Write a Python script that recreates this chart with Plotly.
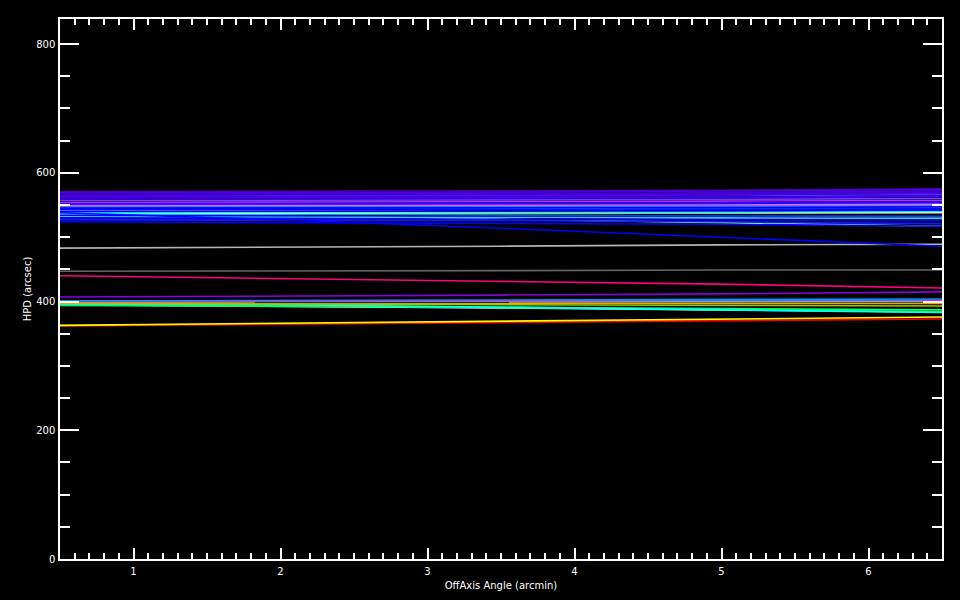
import plotly.graph_objects as go

# Off-axis angle sample positions (arcmin)
offaxis = [0.5, 2.0, 3.5, 5.0, 6.5]

# HPD values (arcsec) for each curve, read at the offaxis positions
hpd_red = [362, 365, 368, 371, 373]
hpd_yellow = [363, 366, 369, 373, 376]
hpd_white_low = [395, 393, 390, 387, 384]
hpd_spring = [394, 393, 391, 389, 387]
hpd_lime = [395, 394, 391, 388, 384]
hpd_cyan_low = [396, 395, 391, 387, 383]
hpd_olive = [397, 396, 395, 394, 393]
hpd_orange = [398, 398, 398, 397, 397]
hpd_teal = [400, 400, 400, 400, 400]
hpd_magenta = [400, 400, 401, 402, 402]
hpd_azure = [401, 402, 403, 404, 404]
hpd_purple_low = [407, 408, 410, 412, 415]
hpd_pink = [440, 436, 432, 427, 421]
hpd_darkgray = [447, 447, 448, 449, 449]
hpd_lightgray = [483, 484, 486, 488, 489]
hpd_blue_desc = [538, 527, 514, 500, 486]

hpd_paleyellow = [537, 537, 537, 538, 538]
hpd_lightgreen = [538, 534, 528, 523, 517]
hpd_aqua = [535, 535, 534, 533, 532]
hpd_cyan_up = [538, 538, 539, 539, 540]
hpd_lavender_blue = [541, 542, 543, 545, 546]
hpd_sky1 = [564, 564, 564, 565, 566]
hpd_sky2 = [547, 547, 547, 548, 549]
hpd_sky4 = [532, 532, 531, 530, 529]

hpd_blue1 = [551, 551, 551, 552, 553]
hpd_blue2 = [545, 545, 545, 546, 547]
hpd_blue3 = [543, 543, 543, 543, 544]
hpd_blue8 = [540, 540, 540, 541, 542]
hpd_blue4 = [534, 533, 533, 533, 533]
hpd_blue5 = [530, 529, 528, 527, 526]
hpd_blue6 = [527, 527, 526, 524, 521]
hpd_blue7 = [524, 523, 522, 520, 517]

hpd_purple1 = [557, 557, 558, 559, 560]
hpd_purple2 = [554, 554, 555, 556, 557]
hpd_lilac = [549, 549, 549, 550, 551]

hpd_violet1 = [571, 571, 572, 573, 575]
hpd_violet2 = [569, 569, 570, 572, 574]
hpd_violet3 = [567, 567, 568, 569, 572]
hpd_violet4 = [565, 565, 566, 567, 570]
hpd_violet5 = [563, 563, 564, 565, 568]
hpd_violet6 = [561, 561, 561, 562, 565]
hpd_violet7 = [559, 559, 560, 561, 563]
hpd_violet8 = [552, 552, 553, 554, 555]

series = [
    hpd_red, hpd_yellow, hpd_white_low, hpd_spring, hpd_lime, hpd_cyan_low,
    hpd_olive, hpd_orange, hpd_teal, hpd_magenta, hpd_azure, hpd_purple_low,
    hpd_pink, hpd_darkgray, hpd_lightgray,
    hpd_paleyellow, hpd_lightgreen, hpd_aqua,
    hpd_cyan_up, hpd_lavender_blue, hpd_sky1, hpd_sky2, hpd_sky4,
    hpd_blue1, hpd_blue2, hpd_blue3, hpd_blue8, hpd_blue4, hpd_blue5,
    hpd_blue6, hpd_blue7, hpd_blue_desc,
    hpd_purple1, hpd_purple2, hpd_lilac,
    hpd_violet1, hpd_violet2, hpd_violet3, hpd_violet4, hpd_violet5,
    hpd_violet6, hpd_violet7, hpd_violet8,
]

colors = [
    "#ff0000", "#ffff00", "#ffffff", "#00ff80", "#00ff00", "#00ffff",
    "#a0c800", "#ffa000", "#00e0e0", "#ff20c0", "#0090ff", "#8800dd",
    "#ff0080", "#646464", "#b4b4b4",
    "#ffff80", "#80ff80", "#40ffb0",
    "#00ffff", "#a0a0ff", "#3090ff", "#2080ff", "#40c0ff",
    "#2a00ff", "#0000ff", "#0010ff", "#0000ff", "#0000ff", "#0000f0",
    "#1818ff", "#0000ff", "#0000ff",
    "#7040ff", "#b030ff", "#c070ff",
    "#50009a", "#4a00e0", "#4800d8", "#4000e0", "#5000e0", "#4400ee",
    "#3c00e8", "#3a00f0",
]

fig = go.Figure()
for vals, col in zip(series, colors):
    fig.add_trace(go.Scatter(x=offaxis, y=vals, mode="lines",
                             line=dict(color=col, width=1.6),
                             showlegend=False, hoverinfo="skip"))

font = dict(family="DejaVu Sans", size=10, color="#ffffff")

fig.update_layout(
    width=960, height=600,
    paper_bgcolor="#000000", plot_bgcolor="#000000",
    margin=dict(l=60, r=18, t=19, b=41, autoexpand=False),
    font=font,
    showlegend=False,
)
fig.update_xaxes(
    range=[0.5, 6.5], tickmode="array", tickvals=[1, 2, 3, 4, 5, 6],
    ticktext=["1", "2", "3", "4", "5", "6"],
    showgrid=False, zeroline=False, automargin=False,
    showline=True, linecolor="#ffffff", linewidth=1.5, mirror="allticks",
    ticks="inside", ticklen=11, tickcolor="#ffffff", tickwidth=1.5,
    ticklabelstandoff=2,
    minor=dict(ticks="inside", ticklen=6, dtick=0.1, tick0=0.5,
               tickcolor="#ffffff", tickwidth=1.5, showgrid=False),
    title=dict(text="OffAxis Angle (arcmin)", standoff=6, font=font),
)
fig.update_yaxes(
    range=[0, 839], tickmode="array", tickvals=[0, 200, 400, 600, 800],
    ticktext=["0", "200", "400", "600", "800"],
    showgrid=False, zeroline=False, automargin=False,
    showline=True, linecolor="#ffffff", linewidth=1.5, mirror="allticks",
    ticks="inside", ticklen=19, tickcolor="#ffffff", tickwidth=1.5,
    ticklabelstandoff=1,
    minor=dict(ticks="inside", ticklen=10, dtick=50, tick0=0,
               tickcolor="#ffffff", tickwidth=1.5, showgrid=False),
    title=dict(text="HPD (arcsec)", standoff=3, font=font),
)

fig.write_html("out.html",
               config={"displayModeBar": False},
               post_script="document.body.style.margin='0';"
                           "document.body.style.background='#000';")
